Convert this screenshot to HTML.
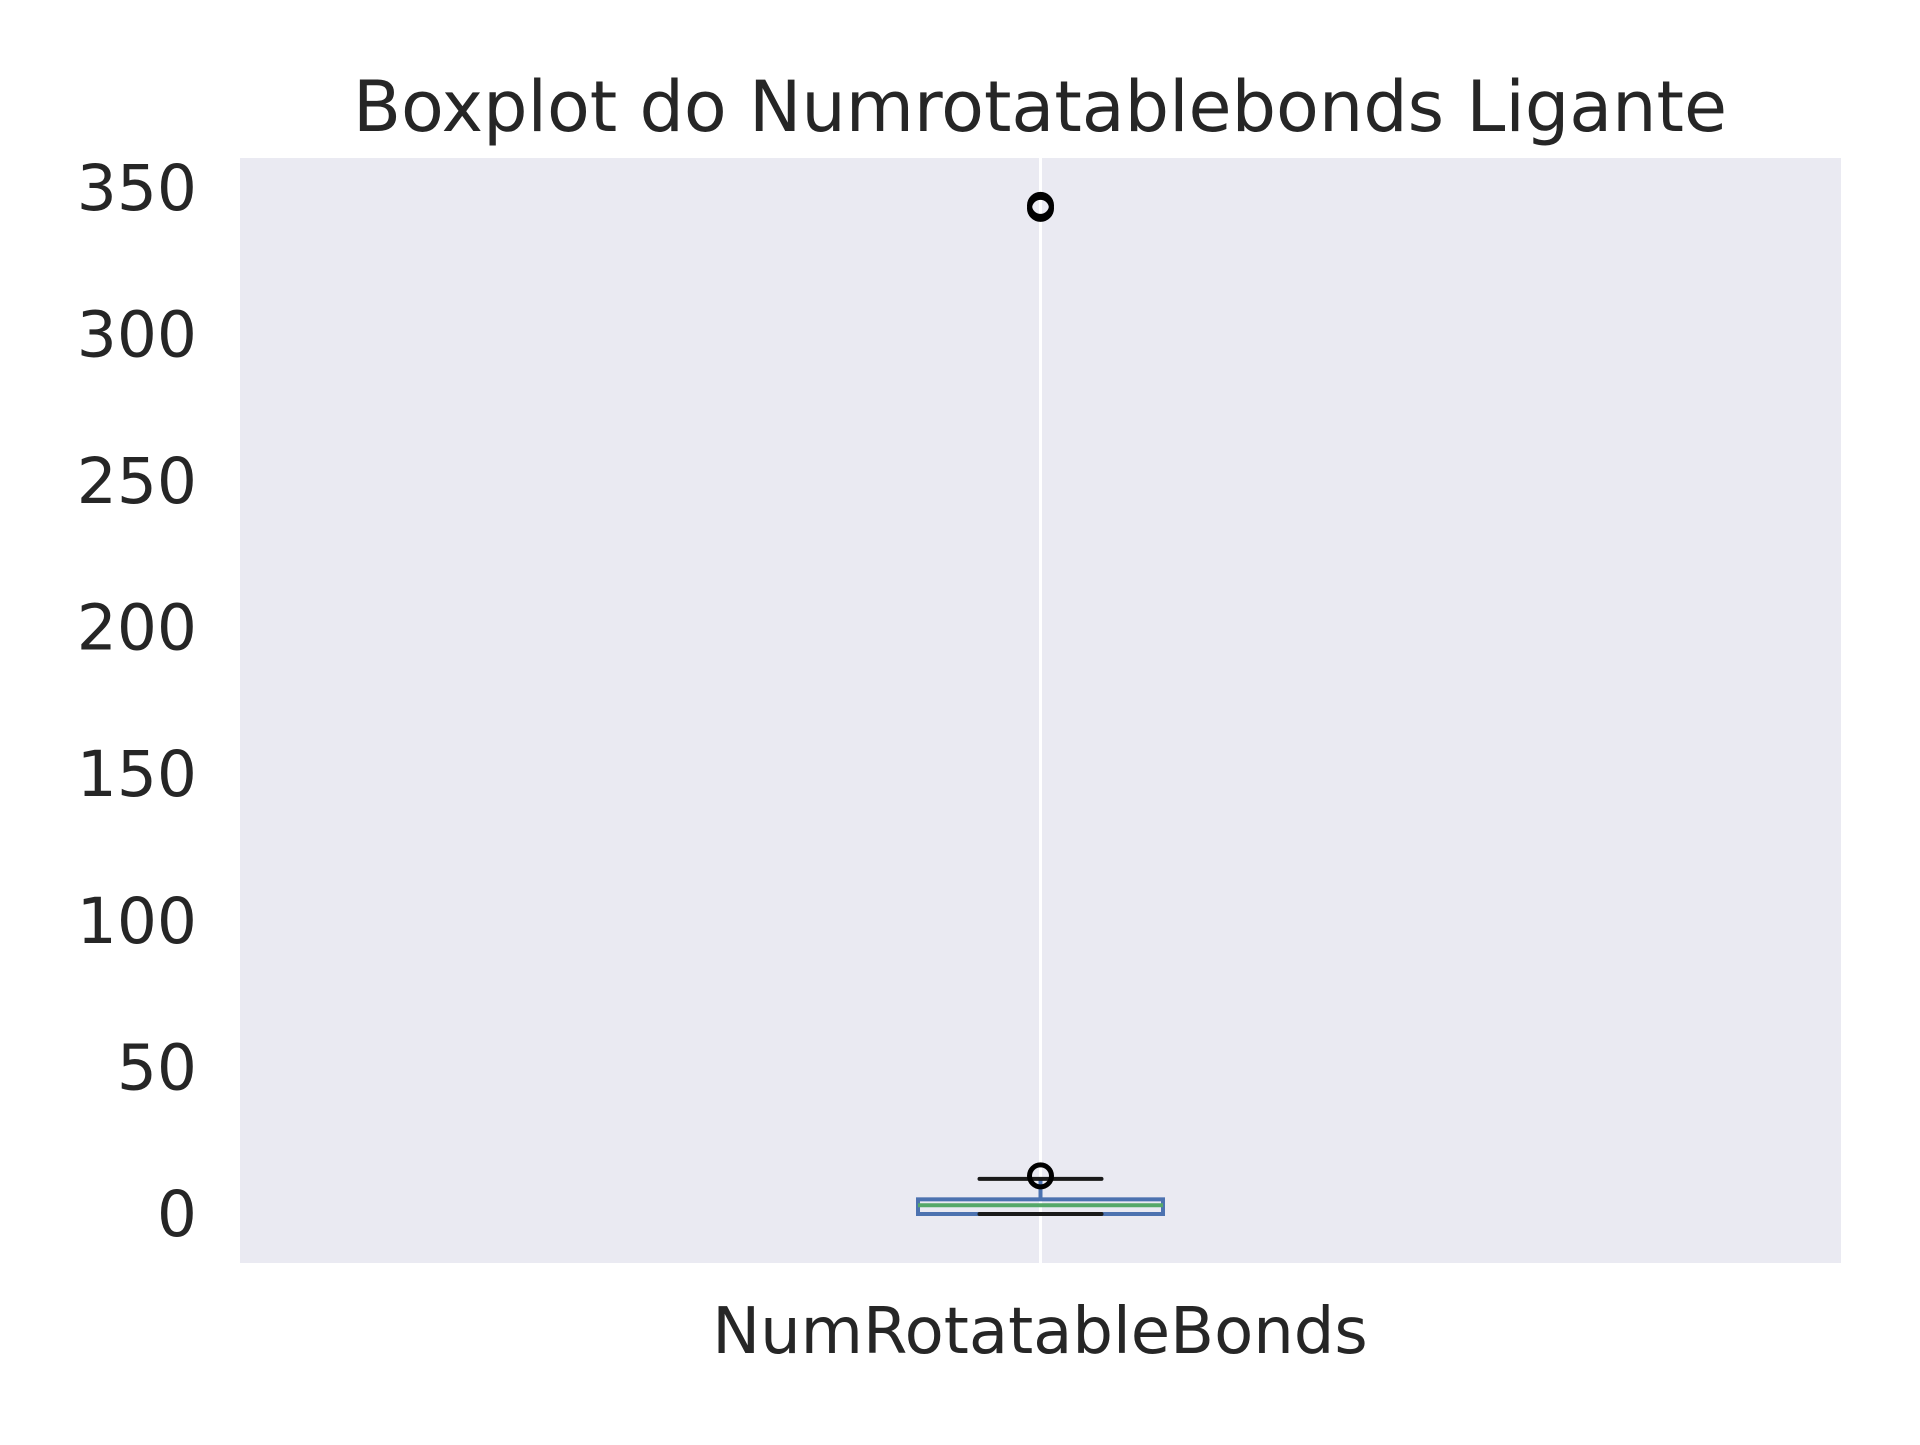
<!DOCTYPE html>
<html><head><meta charset="utf-8"><style>
html,body{margin:0;padding:0;background:#fff;}
svg text{font-family:"DejaVu Sans","Liberation Sans",sans-serif;fill:#262626;}
</style></head><body>
<svg width="1920" height="1440" xmlns="http://www.w3.org/2000/svg">
<rect x="240" y="158" width="1601" height="1105" fill="#eaeaf2"/>
<g id="grid"></g>
<g id="yticks"></g>
<g id="box"></g>
<text x="1040" y="131" font-size="70" text-anchor="middle">Boxplot do Numrotatablebonds Ligante</text>
<text x="1040" y="1353" font-size="64" text-anchor="middle">NumRotatableBonds</text>
</svg>
<script>
const yTicks=[0,50,100,150,200,250,300,350];
const categories=['NumRotatableBonds'];
const q1=[0], median=[3], q3=[5], whiskLo=[0], whiskHi=[12];
const outliers=[[13,343,344]];
const NS='http://www.w3.org/2000/svg';
const y=v=>1214-v*2.932;
const x=i=>1040.5+(i)*1601;
function mk(t,a,p){const e=document.createElementNS(NS,t);for(const k in a)e.setAttribute(k,a[k]);p.appendChild(e);return e;}
const gY=document.getElementById('yticks'),gG=document.getElementById('grid'),gB=document.getElementById('box');
yTicks.forEach(v=>{const t=mk('text',{x:197,y:y(v)+22,'font-size':63,'text-anchor':'end'},gY);t.textContent=v;

});
categories.forEach((c,i)=>{
const cx=x(i);
const gl=mk('line',{x1:cx,x2:cx,y1:158,y2:1263,stroke:'#fff','stroke-width':3},gG);


const w1=mk('line',{x1:cx,x2:cx,y1:y(q3[i]),y2:y(whiskHi[i]),stroke:'#4c72b0','stroke-width':4},gB);


const b=mk('rect',{x:cx-122.5,y:y(q3[i]),width:245,height:Math.max(y(q1[i])-y(q3[i]),1),fill:'none',stroke:'#4c72b0','stroke-width':4},gB);


const m=mk('line',{x1:cx-122.5,x2:cx+122.5,y1:y(median[i]),y2:y(median[i]),stroke:'#55a868','stroke-width':4},gB);


[whiskLo[i],whiskHi[i]].forEach(v=>{const cap=mk('line',{x1:cx-61,x2:cx+61,y1:y(v),y2:y(v),stroke:'#1a1a1a','stroke-width':4,'stroke-linecap':'round'},gB);

});
outliers[i].forEach(v=>{const o=mk('circle',{cx:cx,cy:y(v),r:11,fill:'none',stroke:'#000','stroke-width':5},gB);

});
});
</script>
</body></html>
